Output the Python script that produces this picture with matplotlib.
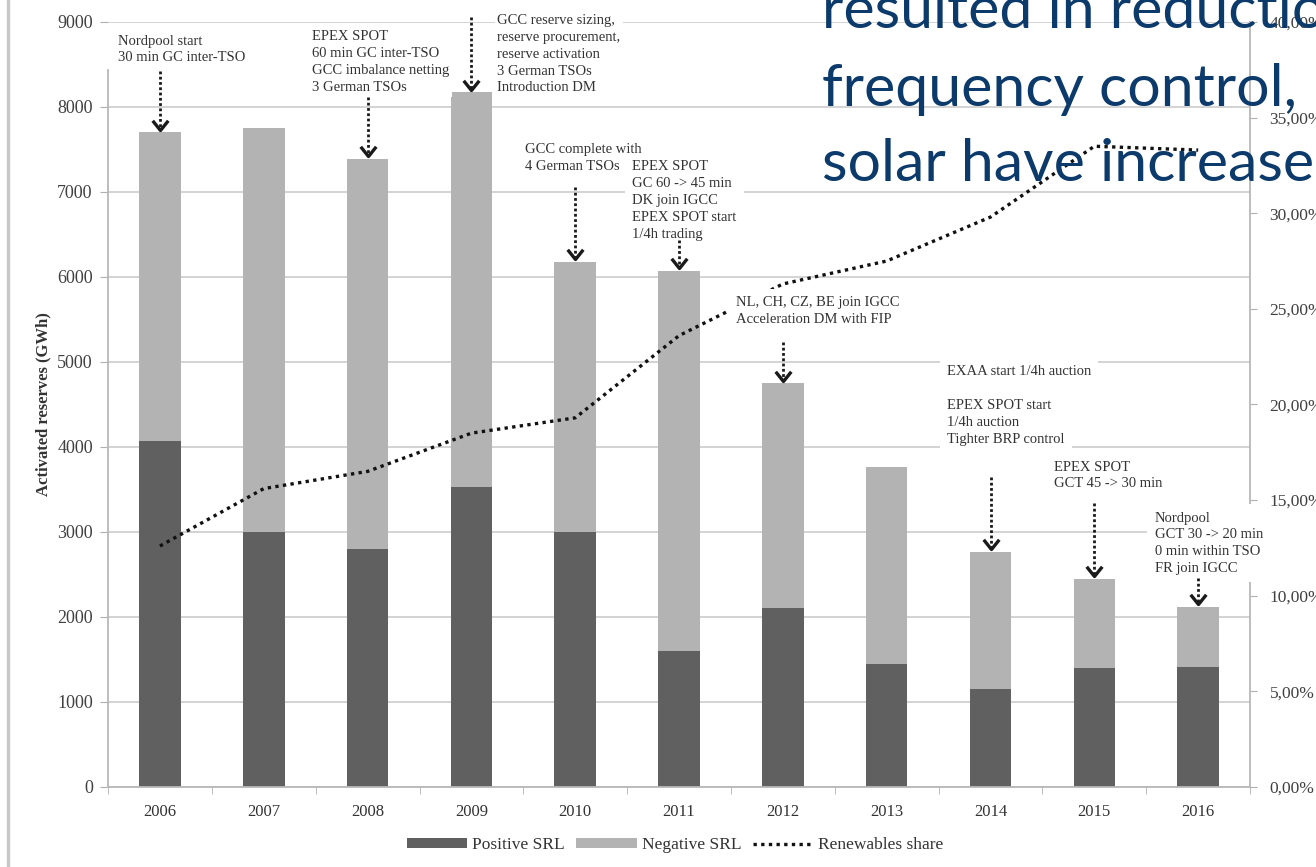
import numpy as np
import matplotlib.pyplot as plt
from matplotlib.path import Path
from matplotlib.lines import Line2D
from matplotlib.ticker import FuncFormatter

plt.rcParams['font.family'] = ['Liberation Serif', 'DejaVu Serif']

years = ['2006', '2007', '2008', '2009', '2010', '2011', '2012', '2013', '2014', '2015', '2016']
positive_srl = [4070, 3000, 2800, 3530, 3000, 1600, 2100, 1450, 1150, 1400, 1410]
negative_srl = [3630, 4750, 4590, 4640, 3180, 4470, 2650, 2310, 1620, 1050, 710]
renewables_share = [12.6, 15.6, 16.5, 18.5, 19.3, 23.6, 26.3, 27.5, 29.8, 33.5, 33.3]

dark = '#606060'
light = '#b3b3b3'
grid_c = '#d0d0d0'
txt_c = '#333333'

fig = plt.figure(figsize=(13.16, 8.67), dpi=100)
ax = fig.add_axes([0.0821, 0.0923, 0.8678, 0.8824])
ax2 = ax.twinx()

x = np.arange(len(years))
b1 = ax.bar(x, positive_srl, width=0.4, color=dark, zorder=2)
b2 = ax.bar(x, negative_srl, width=0.4, bottom=positive_srl, color=light, zorder=2)

ax.set_xlim(-0.5, 10.5)
ax.set_ylim(0, 9000)
ax.set_yticks(range(0, 9001, 1000))
ax.grid(axis='y', color=grid_c, lw=1.3)
ax.set_axisbelow(True)
ax.set_xticks(x)
ax.set_xticklabels(years, fontsize=12, color=txt_c)
ax.set_xticks(np.arange(-0.5, 10.6, 1), minor=True)
ax.tick_params(axis='x', which='major', length=0, pad=12)
ax.tick_params(axis='x', which='minor', length=5, color='#b0b0b0', direction='out')
ax.tick_params(axis='y', length=6, color='#b0b0b0', labelsize=13, labelcolor='#404040', pad=5)
ax.set_ylabel('Activated reserves (GWh)', fontsize=12, fontweight='bold', color=txt_c, labelpad=4)
for s in ['top', 'right']:
    ax.spines[s].set_visible(False)
for s in ['left', 'bottom']:
    ax.spines[s].set_color('#b8b8b8')
    ax.spines[s].set_linewidth(1.3)
ax.spines['left'].set_bounds(0, 8430)

line, = ax2.plot(x, renewables_share, color='#111111', lw=2.4, ls=(0, (1, 1.3)), zorder=2)
ax2.set_ylim(0, 40)
ax2.set_yticks(range(0, 41, 5))
ax2.yaxis.set_major_formatter(FuncFormatter(lambda v, _: f"{v:.2f}".replace('.', ',') + '%'))
ax2.tick_params(axis='y', length=5, color='#b0b0b0', labelsize=12.5, labelcolor='#404040', pad=9)
for s in ['top', 'left', 'bottom']:
    ax2.spines[s].set_visible(False)
ax2.spines['right'].set_color('#b8b8b8')
ax2.spines['right'].set_linewidth(1.3)

chevron = Path([(-0.8, 1), (0, 0), (0.8, 1)], [Path.MOVETO, Path.LINETO, Path.LINETO])


def note(xp, yp, text, pad=0.5):
    ax2.text(xp, yp, text, transform=ax.transData, ha='left', va='top', fontsize=10.5,
             color=txt_c, linespacing=1.38, zorder=5, clip_on=False,
             bbox=dict(boxstyle='square,pad=%s' % pad, fc='white', ec='none'))


def arrow(i, y_from):
    tip = positive_srl[i] + negative_srl[i] + 30
    ax2.plot([i, i], [y_from, tip], transform=ax.transData, color='#1a1a1a', lw=2,
             ls=(0, (1, 0.9)), zorder=6, clip_on=False)
    ax2.plot([i], [tip], transform=ax.transData, marker=chevron, ms=14, mfc='none',
             mec='#1a1a1a', mew=2.4, zorder=6, clip_on=False)


note(-0.40, 8850, 'Nordpool start\n30 min GC inter-TSO')
arrow(0, 8420)
note(1.46, 8900, 'EPEX SPOT\n60 min GC inter-TSO\nGCC imbalance netting\n3 German TSOs', pad=0.25)
arrow(2, 8120)
note(3.25, 9090, 'GCC reserve sizing,\nreserve procurement,\nreserve activation\n3 German TSOs\nIntroduction DM', pad=0.15)
arrow(3, 9060)
note(3.52, 7570, 'GCC complete with\n4 German TSOs')
arrow(4, 7060)
note(4.55, 7370, 'EPEX SPOT\nGC 60 -> 45 min\nDK join IGCC\nEPEX SPOT start\n1/4h trading')
arrow(5, 6440)
note(5.55, 5770, 'NL, CH, CZ, BE join IGCC\nAcceleration DM with FIP')
arrow(6, 5230)
note(7.58, 4970, 'EXAA start 1/4h auction')
note(7.58, 4560, 'EPEX SPOT start\n1/4h auction\nTighter BRP control')
arrow(8, 3650)
note(8.61, 3840, 'EPEX SPOT\nGCT 45 -> 30 min')
arrow(9, 3340)
note(9.58, 3240, 'Nordpool\nGCT 30 -> 20 min\n0 min within TSO\nFR join IGCC')
arrow(10, 2460)

fig.legend([b1, b2, line], ['Positive SRL', 'Negative SRL', 'Renewables share'],
           loc='center', bbox_to_anchor=(0.513, 0.025), ncol=3, frameon=False,
           fontsize=12.5, handlelength=3.5, handleheight=0.45, handletextpad=0.25,
           columnspacing=0.7, labelcolor=txt_c)

fig.add_artist(Line2D([0.006, 0.006], [0, 1], transform=fig.transFigure, color='#c8c8c8', lw=2.5))

blue = '#0b3a6b'
fig.text(0.6246, 0.9677, 'resulted in reduction', fontsize=42.5, family='Lato', color=blue, va='baseline', zorder=10)
fig.text(0.6246, 0.8777, 'frequency control,', fontsize=42.5, family='Lato', color=blue, va='baseline', zorder=10)
fig.text(0.6246, 0.7912, 'solar have increased', fontsize=42.5, family='Lato', color=blue, va='baseline', zorder=10)

fig.savefig('out.png', dpi=100)
